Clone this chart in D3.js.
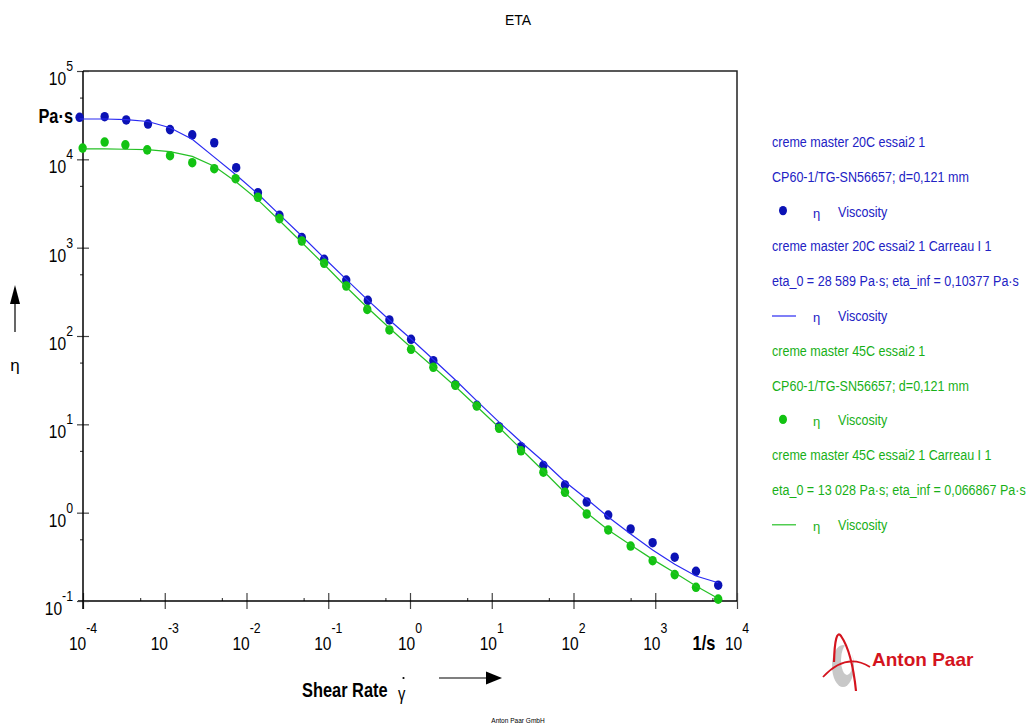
<!DOCTYPE html>
<html>
<head>
<meta charset="utf-8">
<script src="https://cdn.jsdelivr.net/npm/d3@7"></script>
<style>
  body { margin: 0; background: #fff; }
  svg { display: block; }
</style>
</head>
<body>
<div id="chart"></div>
<script>
// shear rate [1/s] and viscosity [Pa·s]
const shearRate20 = [9.08e-5, 1.84e-4, 3.38e-4, 6.24e-4, 1.16e-3, 2.17e-3, 4.03e-3, 7.48e-3, 0.0138, 0.0253,
  0.0475, 0.0891, 0.166, 0.305, 0.560, 1.03, 1.93, 3.59, 6.56, 12.3,
  22.8, 42.8, 78.7, 145, 266, 500, 929, 1730, 3150, 5890];
const viscosity20 = [29900, 30400, 27900, 25100, 21700, 18900, 15400, 8040, 4190, 2320,
  1300, 738, 430, 253, 152, 91.8, 52.5, 28.1, 16.4, 9.40,
  5.58, 3.42, 2.06, 1.32, 0.940, 0.653, 0.457, 0.313, 0.217, 0.151];
const carreau20 = [28600, 28600, 28200, 26800, 22800, 16900, 10600, 6650, 4050, 2370,
  1355, 764, 437, 255, 152, 92.5, 54.2, 31.8, 18.4, 10.6,
  6.31, 3.79, 2.24, 1.43, 0.893, 0.573, 0.378, 0.260, 0.192, 0.161];

const shearRate45 = [9.9e-5, 1.84e-4, 3.3e-4, 6.1e-4, 1.16e-3, 2.17e-3, 4.03e-3, 7.35e-3, 0.0138, 0.0253,
  0.0475, 0.0891, 0.166, 0.300, 0.560, 1.03, 1.93, 3.59, 6.56, 12.3,
  22.8, 42.8, 78.7, 145, 266, 500, 929, 1730, 3150, 5890];
const viscosity45 = [13400, 15700, 14600, 12800, 11000, 9160, 7830, 6040, 3720, 2130,
  1190, 665, 368, 200, 117, 70.7, 44.2, 27.7, 16.1, 9.02,
  5.02, 2.87, 1.70, 0.966, 0.637, 0.419, 0.286, 0.199, 0.143, 0.105];
const carreau45 = [13100, 13100, 13000, 12900, 12200, 10800, 8340, 5610, 3470, 2030,
  1143, 645, 359, 210, 123, 74.1, 44.6, 26.8, 15.9, 9.20,
  5.26, 2.96, 1.68, 0.998, 0.636, 0.431, 0.296, 0.209, 0.148, 0.107];

const xMajor = [1e-4, 1e-3, 1e-2, 1e-1, 1e0, 1e1, 1e2, 1e3, 1e4];
const xMinor = [5e-4, 5e-3, 5e-2, 5e-1, 5e0, 5e1, 5e2, 5e3];
const yMajor = [1e-1, 1e0, 1e1, 1e2, 1e3, 1e4, 1e5];
const yMinor = [5e-1, 5e0, 5e1, 5e2, 5e3, 5e4];

const legendLines = [
  {text: 'creme master 20C essai2 1', color: '#2222c4'},
  {text: 'CP60-1/TG-SN56657; d=0,121 mm', color: '#2222c4'},
  {text: 'Viscosity', color: '#2222c4', symbol: 'dot', mark: '#0b12b5'},
  {text: 'creme master 20C essai2 1 Carreau I 1', color: '#2222c4'},
  {text: 'eta_0 = 28 589 Pa·s; eta_inf = 0,10377 Pa·s', color: '#2222c4'},
  {text: 'Viscosity', color: '#2222c4', symbol: 'line', mark: '#2a2af2'},
  {text: 'creme master 45C essai2 1', color: '#18b018'},
  {text: 'CP60-1/TG-SN56657; d=0,121 mm', color: '#18b018'},
  {text: 'Viscosity', color: '#18b018', symbol: 'dot', mark: '#12c312'},
  {text: 'creme master 45C essai2 1 Carreau I 1', color: '#18b018'},
  {text: 'eta_0 = 13 028 Pa·s; eta_inf = 0,066867 Pa·s', color: '#18b018'},
  {text: 'Viscosity', color: '#18b018', symbol: 'line', mark: '#25c025'},
];

const W = 1030, H = 727;
const margin = {top: 71, right: 293, bottom: 126, left: 83};
const SANS = "'Liberation Sans',Arial,sans-serif";
const SQ = 0.82; // no narrow face installed: squeeze Liberation Sans horizontally

const svg = d3.select('#chart').append('svg')
  .attr('width', W)
  .attr('height', H)
  .style('font-family', SANS);

// text squeezed to look like Arial Narrow
const ntext = (parent, px, py, size, weight) => parent.append('text')
  .attr('transform', `translate(${px},${py}) scale(${SQ},1)`)
  .style('font-size', `${size}px`)
  .style('font-weight', weight || 'normal');

const x = d3.scaleLog()
  .domain([1e-4, 1e4])
  .range([margin.left, W - margin.right]);

const y = d3.scaleLog()
  .domain([1e-1, 1e5])
  .range([H - margin.bottom, margin.top]);

const x0 = x.range()[0], x1 = x.range()[1];
const yb = y.range()[0], yt = y.range()[1];

// title
svg.append('text')
  .attr('x', 518).attr('y', 25)
  .attr('text-anchor', 'middle')
  .style('font-size', '14px')
  .text('ETA');

// frame (top + right)
svg.append('path')
  .attr('d', `M${x0},${yt}H${x1}V${yb}`)
  .attr('fill', 'none')
  .attr('stroke', '#222')
  .attr('stroke-width', 1.5);

// x axis: majors cross the line, minors point inward
const gx = svg.append('g').attr('transform', `translate(0,${yb})`);
gx.append('g')
  .call(d3.axisBottom(x).tickValues(xMajor).tickSize(8).tickFormat(''))
  .call(g => g.select('.domain').remove());
gx.append('g')
  .call(d3.axisTop(x).tickValues(xMajor).tickSize(8).tickFormat(''))
  .call(g => g.select('.domain').remove());
gx.append('g')
  .call(d3.axisTop(x).tickValues(xMinor).tickSize(3).tickFormat(''))
  .call(g => g.select('.domain').remove());
gx.selectAll('line').attr('stroke', '#444').attr('stroke-width', 1.2);
gx.append('line')
  .attr('x1', x0 - 5).attr('x2', x1)
  .attr('stroke', '#000').attr('stroke-width', 1.5);

// y axis
const gy = svg.append('g').attr('transform', `translate(${x0},0)`);
gy.append('g')
  .call(d3.axisLeft(y).tickValues(yMajor).tickSize(6).tickFormat(''))
  .call(g => g.select('.domain').remove());
gy.append('g')
  .call(d3.axisRight(y).tickValues(yMajor).tickSize(6).tickFormat(''))
  .call(g => g.select('.domain').remove());
gy.append('g')
  .call(d3.axisLeft(y).tickValues(yMinor).tickSize(3).tickFormat(''))
  .call(g => g.select('.domain').remove());
gy.selectAll('line').attr('stroke', '#444').attr('stroke-width', 1.2);
gy.append('line')
  .attr('y1', yt).attr('y2', yb + 8)
  .attr('stroke', '#000').attr('stroke-width', 1.5);

// power-of-ten tick labels
const pow10 = (sel, exp, size, supSize, rise) => {
  sel.append('tspan').style('font-size', `${size}px`).text('10');
  sel.append('tspan').style('font-size', `${supSize}px`).attr('dy', -rise).text(exp);
};
const expOf = d => String(Math.round(Math.log10(d)));

const gxl = svg.append('g');
xMajor.forEach(d => {
  ntext(gxl, x(d), yb + 49, 19)
    .attr('text-anchor', 'middle')
    .call(t => pow10(t, expOf(d), 19, 15, 17));
});

const gyl = svg.append('g');
yMajor.forEach(d => {
  ntext(gyl, 73, y(d) + 14, 19)
    .attr('text-anchor', 'end')
    .call(t => pow10(t, expOf(d), 19, 15, 14));
});

// unit labels
ntext(svg, 73, 123, 20, 'bold').attr('text-anchor', 'end').text('Pa·s');
ntext(svg, 704, 650, 20, 'bold').attr('text-anchor', 'middle').text('1/s');

// y axis title with arrow
svg.append('text')
  .attr('x', 15).attr('y', 371)
  .attr('text-anchor', 'middle')
  .style('font-size', '17px')
  .text('η');
svg.append('line')
  .attr('x1', 15).attr('x2', 15).attr('y1', 332).attr('y2', 300)
  .attr('stroke', '#000').attr('stroke-width', 1.2);
svg.append('path')
  .attr('d', 'M15,285L10,304L20,304Z')
  .attr('fill', '#000');

// x axis title with arrow
ntext(svg, 302, 697, 20, 'bold').text('Shear Rate');
ntext(svg, 398, 700, 18).text('γ');
svg.append('circle').attr('cx', 403.5).attr('cy', 678).attr('r', 1.1).attr('fill', '#000');
svg.append('line')
  .attr('x1', 439).attr('x2', 488).attr('y1', 678).attr('y2', 678)
  .attr('stroke', '#000').attr('stroke-width', 1.2);
svg.append('path')
  .attr('d', 'M502,678L486,671.5L486,684.5Z')
  .attr('fill', '#000');

// data series
const line = (xs) => d3.line()
  .x((d, i) => x(xs[i]))
  .y(d => y(d));

const series = [
  {xs: shearRate20, pts: viscosity20, fit: carreau20, dot: '#0b12b5', stroke: '#2a2af2'},
  {xs: shearRate45, pts: viscosity45, fit: carreau45, dot: '#12c312', stroke: '#25c025'},
];

series.forEach(s => {
  svg.append('g').selectAll('ellipse')
    .data(s.pts)
    .join('ellipse')
      .attr('cx', (d, i) => x(s.xs[i]))
      .attr('cy', d => y(d))
      .attr('rx', 4.2)
      .attr('ry', 4.8)
      .attr('fill', s.dot);
  svg.append('path')
    .datum(s.fit)
    .attr('d', line(s.xs))
    .attr('fill', 'none')
    .attr('stroke', s.stroke)
    .attr('stroke-width', 1.2);
});

// legend
const lg = svg.append('g');

legendLines.forEach((d, i) => {
  const ly = 142 + i * 34.8;
  if (!d.symbol) {
    ntext(lg, 772, ly + 5, 15.3).attr('fill', d.color).text(d.text);
    return;
  }
  if (d.symbol === 'dot') {
    lg.append('ellipse').attr('cx', 783).attr('cy', ly - 1).attr('rx', 4).attr('ry', 4.7).attr('fill', d.mark);
  } else {
    lg.append('line').attr('x1', 772).attr('x2', 796).attr('y1', ly).attr('y2', ly)
      .attr('stroke', d.mark).attr('stroke-width', 1.2);
  }
  lg.append('text').attr('x', 813).attr('y', ly + 6)
    .attr('fill', d.color).style('font-size', '13px').text('η');
  ntext(lg, 838, ly + 5, 15.3).attr('fill', d.color).text(d.text);
});

// logo
const logo = svg.append('g');
logo.append('ellipse')
  .attr('cx', 843).attr('cy', 666).attr('rx', 11).attr('ry', 21)
  .attr('fill', '#c8c8c8');
logo.append('ellipse')
  .attr('cx', 847).attr('cy', 660).attr('rx', 6).attr('ry', 15)
  .attr('fill', '#fff');
logo.append('path')
  .attr('d', 'M834,662Q835,628 841,636Q852,652 856,691')
  .attr('fill', 'none').attr('stroke', '#d4141e').attr('stroke-width', 2.2);
logo.append('path')
  .attr('d', 'M823,677Q846,652 870,667')
  .attr('fill', 'none').attr('stroke', '#d4141e').attr('stroke-width', 1.8);
logo.append('text')
  .attr('x', 872).attr('y', 666)
  .style('font-size', '19px')
  .style('font-weight', 'bold')
  .attr('fill', '#d4141e')
  .text('Anton Paar');

// footer
ntext(svg, 518, 723, 8).attr('text-anchor', 'middle').text('Anton Paar GmbH');
</script>
</body>
</html>
